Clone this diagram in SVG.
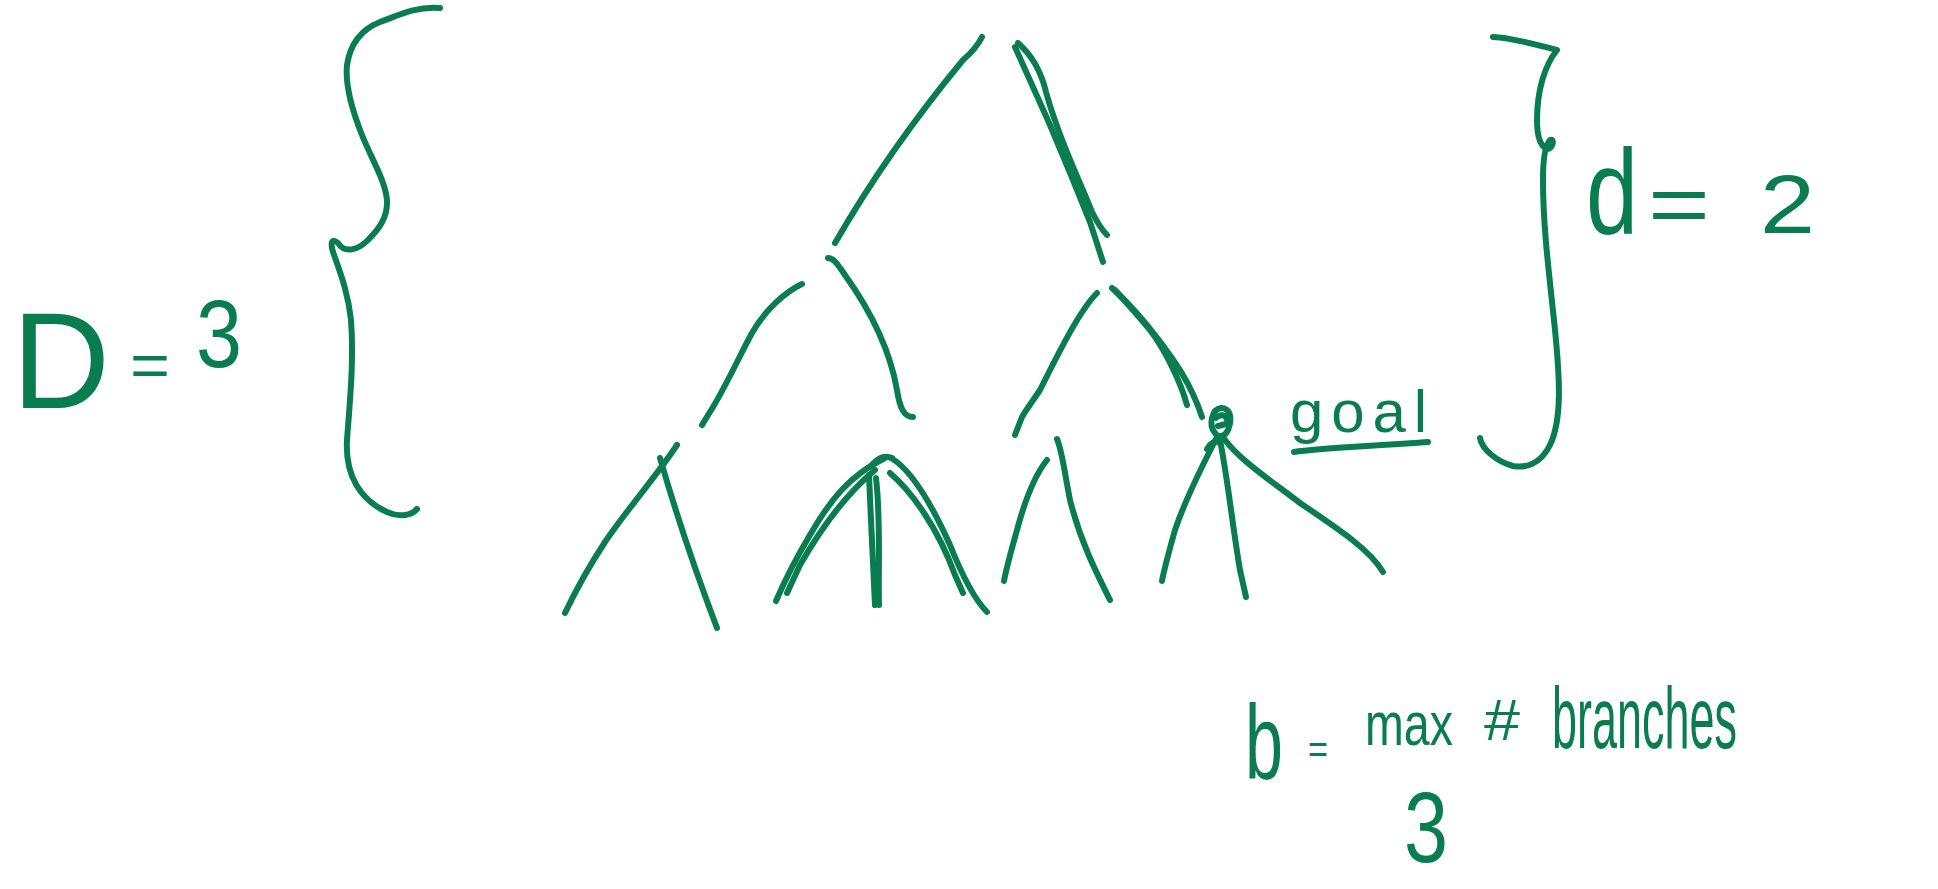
<svg xmlns="http://www.w3.org/2000/svg" width="1938" height="889" viewBox="0 0 1938 889">
<style>
.s{fill:none;stroke:#0a7d50;stroke-width:6;stroke-linecap:round;stroke-linejoin:round}
.t{fill:#0a7d50;font-family:"Liberation Sans","DejaVu Sans",sans-serif}
</style>
<rect width="1938" height="889" fill="#ffffff"/>
<g id="brace-D">
<path class="s" d="M440,8 C415,6 397,16 380,22 C360,30 350,45 347,65 C345,85 352,110 362,135 C372,160 385,180 387,200 C388,218 378,230 368,240 C358,250 345,254 338,243 C332,238 330,242 333,252 C340,272 348,292 351,320 C354,360 350,400 347,440 C345,475 360,500 387,512 C400,518 412,515 417,509"/>
</g>
<g id="label-D">
<text class="t" x="12" y="408" font-size="138" textLength="98" lengthAdjust="spacingAndGlyphs">D</text>
<text class="t" x="130" y="386" font-size="62" textLength="40" lengthAdjust="spacingAndGlyphs">=</text>
<text class="t" x="196" y="367" font-size="96" textLength="46" lengthAdjust="spacingAndGlyphs">3</text>
</g>
<g id="bracket-d">
<path class="s" d="M1493,37 C1515,38 1540,46 1557,50 C1545,65 1537,90 1537,120 C1537,135 1540,146 1547,149 C1553,149 1555,138 1550,140 C1545,145 1543,160 1543,180 C1543,230 1550,280 1555,330 C1560,380 1562,420 1550,445 C1540,465 1525,468 1513,466 C1498,462 1482,450 1480,438"/>
</g>
<g id="label-d">
<text class="t" x="1586" y="233" font-size="120" textLength="52" lengthAdjust="spacingAndGlyphs">d</text>
<text class="t" x="1648" y="233" font-size="84" textLength="62" lengthAdjust="spacingAndGlyphs">=</text>
<text class="t" x="1760" y="233" font-size="84" textLength="55" lengthAdjust="spacingAndGlyphs">2</text>
</g>
<g id="connectors">
<path class="s" d="M982,37 Q976,49 963,60 C930,100 880,165 835,243"/>
<path class="s" d="M1015,47 L1050,125 L1073,180 L1090,222 L1103,262"/>
<path class="s" d="M1018,43 C1035,58 1042,75 1046,92 C1055,125 1070,160 1085,195 L1092,212 C1097,222 1101,229 1107,235"/>
<path class="s" d="M802,284 C785,292 765,310 752,333 C740,355 728,382 713,407 L702,425"/>
<path class="s" d="M828,258 C834,258 838,265 845,275 C870,310 890,350 897,390 C900,410 905,417 913,417"/>
<path class="s" d="M1097,293 C1080,310 1060,350 1040,390 L1025,412 L1022,417 L1015,435"/>
<path class="s" d="M1112,288 C1125,300 1140,318 1150,330 C1165,350 1180,380 1187,405"/>
<path class="s" d="M1115,290 C1130,305 1145,322 1155,335 C1170,355 1190,380 1202,417"/>
<path class="s" d="M677,445 C655,478 625,512 605,542 C588,568 575,592 565,613"/>
<path class="s" d="M660,458 C675,510 695,570 717,628"/>
<path class="s" d="M872,465 C878,458 885,455 892,458"/>
<path class="s" d="M885,458 C850,475 830,500 810,535 C795,560 785,580 776,601"/>
<path class="s" d="M875,470 C845,495 820,530 800,565 L787,593"/>
<path class="s" d="M869,475 C871,520 873,570 875,605"/>
<path class="s" d="M876,478 C881,520 878,570 879,605"/>
<path class="s" d="M891,458 C912,470 932,505 950,545 C962,575 975,600 987,612"/>
<path class="s" d="M890,473 C912,492 938,528 955,575 L963,593"/>
<path class="s" d="M1047,460 C1035,475 1025,500 1017,530 C1010,555 1006,570 1004,581"/>
<path class="s" d="M1057,439 C1062,450 1064,470 1070,500 C1080,540 1095,570 1110,600"/>
<path class="s" d="M1217,437 C1200,470 1185,500 1175,530 C1168,555 1164,570 1162,581"/>
<path class="s" d="M1220,440 C1228,480 1233,530 1240,570 L1246,597"/>
<path class="s" d="M1225,440 C1240,460 1270,480 1300,503 C1340,530 1370,550 1383,572"/>
<path class="s" d="M1207,449 C1210,443 1215,441 1218,442"/>
</g>
<g id="goal-node">
<path class="s" d="M1215,433 C1208,425 1212,409 1221,408 C1230,408 1233,418 1228,430 C1225,437 1218,438 1215,433 Z"/>
<path class="s" d="M1216,418 C1220,414 1226,414 1227,420 M1218,426 L1226,424"/>
</g>
<g id="label-goal">
<text class="t" x="1290" y="432" font-size="60" textLength="137" lengthAdjust="spacing">goal</text>
<path class="s" d="M1294,452 C1320,448 1360,447 1428,442"/>
</g>
<g id="label-b">
<text class="t" x="1245" y="779" font-size="105" textLength="38" lengthAdjust="spacingAndGlyphs">b</text>
<text class="t" x="1308" y="763" font-size="40" textLength="20" lengthAdjust="spacingAndGlyphs">=</text>
<text class="t" x="1365" y="745" font-size="62" textLength="88" lengthAdjust="spacingAndGlyphs">max</text>
<text class="t" x="1484" y="740" font-size="58" textLength="36" lengthAdjust="spacingAndGlyphs">#</text>
<text class="t" x="1552" y="748" font-size="88" textLength="185" lengthAdjust="spacingAndGlyphs">branches</text>
<text class="t" x="1404" y="862" font-size="100" textLength="44" lengthAdjust="spacingAndGlyphs">3</text>
</g>
</svg>
